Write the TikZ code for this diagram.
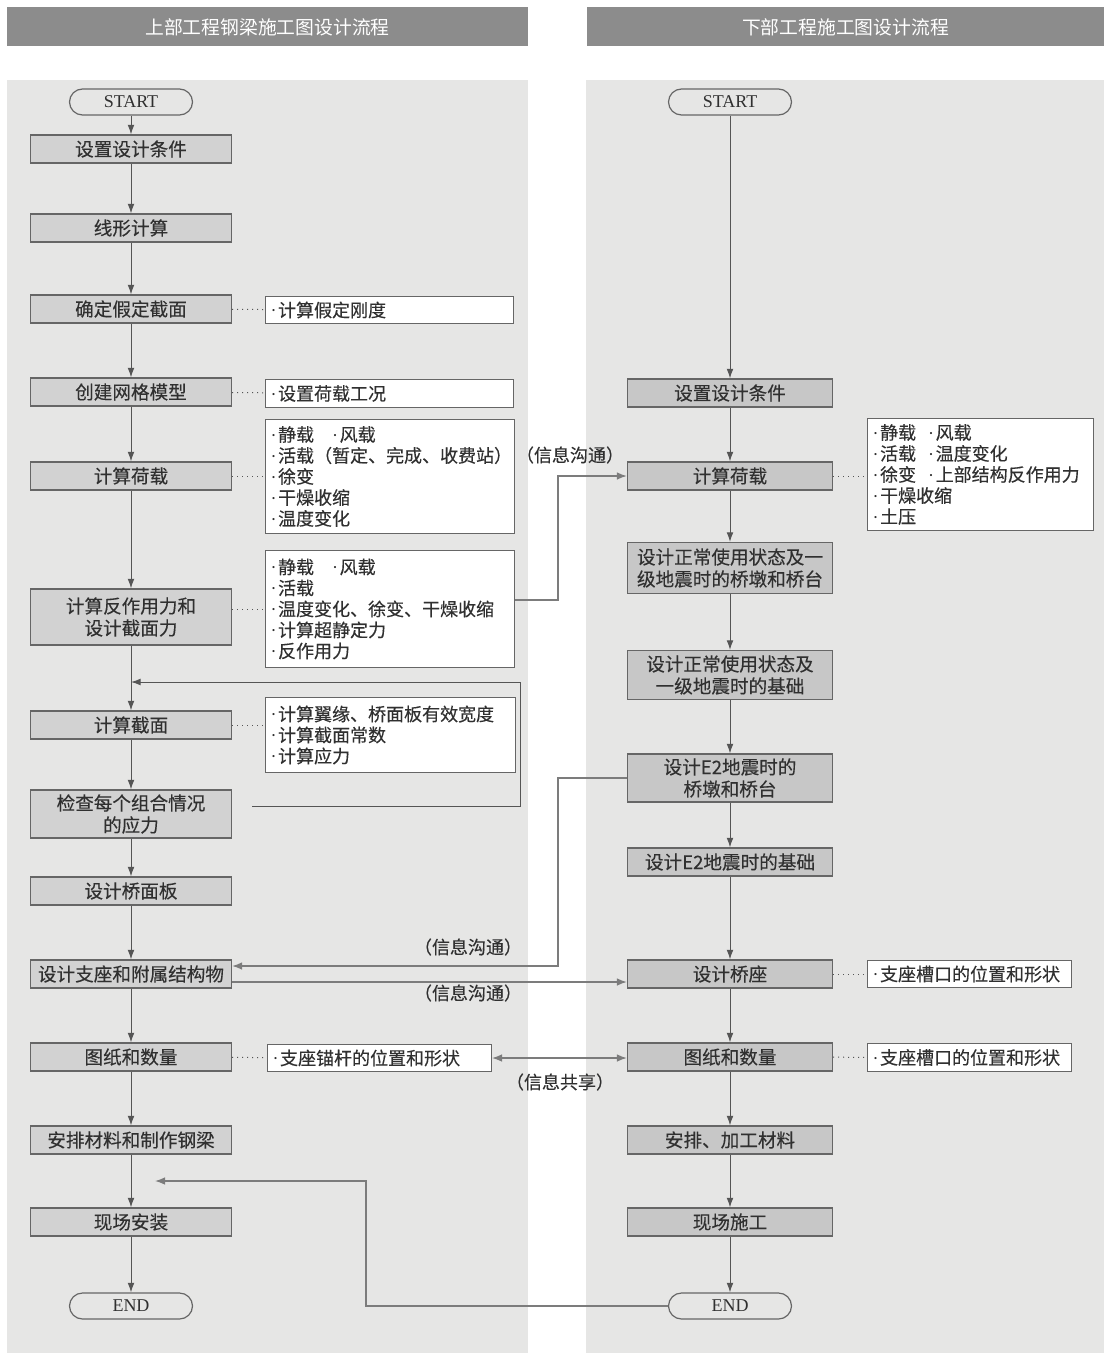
\documentclass[tikz,border=0pt]{standalone}
\usepackage{fontspec}
\setmainfont{Liberation Serif}
\newfontfamily\cjk[FakeBold=0.25]{Noto Sans CJK SC}
\newfontfamily\cjkh{Noto Sans CJK SC}
\usetikzlibrary{arrows.meta}
\definecolor{panel}{HTML}{E6E6E5}
\definecolor{hdrc}{HTML}{8C8C8C}
\definecolor{boxl}{HTML}{D2D2D2}
\definecolor{boxr}{HTML}{C7C7C7}
\definecolor{bordc}{HTML}{666666}
\definecolor{linec}{HTML}{555555}
\definecolor{xlinec}{HTML}{7C7C7C}
\definecolor{txt}{HTML}{303030}
\newcommand\bu{{\rmfamily ·}\nobreak\hspace{0.8pt}\nobreak}
\begin{document}
\begin{tikzpicture}[x=0.5pt,y=-0.5pt,
  hdr/.style={fill=hdrc, text=white, minimum height=19.5pt, inner sep=0pt,
    font=\cjkh\fontsize{9.4}{11}\selectfont},
  basebox/.style={draw=bordc, line width=0.6pt, inner sep=1pt, text=txt, align=center,
    minimum height=14pt, font=\cjk\fontsize{9.3}{11}\selectfont},
  lbox/.style={basebox, fill=boxl, minimum width=100.5pt},
  rbox/.style={basebox, fill=boxr, minimum width=102.5pt},
  term/.style={draw=bordc, line width=0.6pt, fill=panel, rounded corners=6.5pt,
    minimum width=61.5pt, minimum height=13pt, inner sep=0pt, text=txt,
    font=\fontsize{9}{10}\selectfont},
  sbox/.style={draw=bordc, line width=0.5pt, fill=white, anchor=north west,
    inner xsep=2.5pt, inner ysep=1.5pt, align=left, text=txt,
    font=\cjk\fontsize{9}{10.5}\selectfont},
  flow/.style={draw=linec, line width=0.5pt, -{Latex[length=4.8pt,width=3.4pt]}},
  xflow/.style={draw=xlinec, line width=0.7pt, -{Latex[length=5pt,width=3.8pt]}},
  dotl/.style={draw=linec, line width=0.5pt, dotted},
  lab/.style={text=txt, font=\cjk\fontsize{9}{10.5}\selectfont, inner sep=0pt}
]
\useasboundingbox (0,0) rectangle (1104,1353);
\fill[white] (0,0) rectangle (1104,1353);
\fill[panel] (7,80) rectangle (528,1353);
\fill[panel] (586,80) rectangle (1104,1353);

% headers
\node[hdr, minimum width=260.5pt] (h1) at (267.5,27) {上部工程钢梁施工图设计流程};
\node[hdr, minimum width=258.5pt] (h2) at (845.5,27) {下部工程施工图设计流程};

% left column
\node[term] (ls) at (131,102) {START};
\node[lbox] (l1) at (131,149) {设置设计条件};
\node[lbox] (l2) at (131,228) {线形计算};
\node[lbox] (l3) at (131,309) {确定假定截面};
\node[lbox] (l4) at (131,392) {创建网格模型};
\node[lbox] (l5) at (131,476) {计算荷载};
\node[lbox, minimum height=28pt] (l6) at (131,617) {计算反作用力和\\设计截面力};
\node[lbox] (l7) at (131,725) {计算截面};
\node[lbox, minimum height=24pt] (l8) at (131,814) {检查每个组合情况\\的应力};
\node[lbox] (l9) at (131,891) {设计桥面板};
\node[lbox] (l10) at (131,974) {设计支座和附属结构物};
\node[lbox] (l11) at (131,1057) {图纸和数量};
\node[lbox] (l12) at (131,1140) {安排材料和制作钢梁};
\node[lbox] (l13) at (131,1222) {现场安装};
\node[term] (le) at (131,1306) {END};

% left side boxes
\node[sbox, minimum width=124pt, minimum height=13.5pt, text width=119pt] (s3) at (265,296) {\bu 计算假定刚度};
\node[sbox, minimum width=124pt, minimum height=14pt, text width=119pt] (s4) at (265,379) {\bu 设置荷载工况};
\node[sbox, minimum width=124.5pt, minimum height=57pt, text width=119.5pt] (s5) at (265,419)
  {\bu 静载\ \ \ \bu 风载\\\mbox{\bu 活载（暂定、完成、收费站）}\\\bu 徐变\\\bu 干燥收缩\\\bu 温度变化};
\node[sbox, minimum width=124.5pt, minimum height=58.5pt, text width=119.5pt] (s6) at (265,550)
  {\bu 静载\ \ \ \bu 风载\\\bu 活载\\\mbox{\bu 温度变化、徐变、干燥收缩}\\\bu 计算超静定力\\\bu 反作用力};
\node[sbox, minimum width=125pt, minimum height=37.5pt, text width=120pt] (s7) at (265,697)
  {\mbox{\bu 计算翼缘、桥面板有效宽度}\\\bu 计算截面常数\\\bu 计算应力};
\node[sbox, minimum width=112pt, minimum height=13.5pt, text width=107pt] (s11) at (267,1044) {\mbox{\bu 支座锚杆的位置和形状}};

% right column
\node[term] (rs) at (730,102) {START};
\node[rbox] (r1) at (730,393) {设置设计条件};
\node[rbox] (r2) at (730,476) {计算荷载};
\node[rbox, minimum height=25.5pt] (r3) at (730,568) {设计正常使用状态及一\\级地震时的桥墩和桥台};
\node[rbox, minimum height=24.5pt] (r4) at (730,675) {设计正常使用状态及\\一级地震时的基础};
\node[rbox, minimum height=24pt] (r5) at (730,778) {设计E2地震时的\\桥墩和桥台};
\node[rbox] (r6) at (730,862) {设计E2地震时的基础};
\node[rbox] (r7) at (730,974) {设计桥座};
\node[rbox] (r8) at (730,1057) {图纸和数量};
\node[rbox] (r9) at (730,1140) {安排、加工材料};
\node[rbox] (r10) at (730,1222) {现场施工};
\node[term] (re) at (730,1306) {END};

% right side boxes
\node[sbox, minimum width=113pt, minimum height=56pt, text width=108pt] (t2) at (867,418)
  {\bu 静载\ \ \bu 风载\\\bu 活载\ \ \bu 温度变化\\\mbox{\bu 徐变\ \ \bu 上部结构反作用力}\\\bu 干燥收缩\\\bu 土压};
\node[sbox, minimum width=102pt, minimum height=13.5pt, text width=97pt] (t7) at (867,960) {\mbox{\bu 支座槽口的位置和形状}};
\node[sbox, minimum width=102pt, minimum height=14pt, text width=97pt] (t8) at (867,1043) {\mbox{\bu 支座槽口的位置和形状}};

% left flow
\foreach \a/\b in {ls/l1,l1/l2,l2/l3,l3/l4,l4/l5,l5/l6,l6/l7,l7/l8,l8/l9,l9/l10,l10/l11,l11/l12,l12/l13,l13/le}
  \draw[flow] (\a) -- (\b);
% right flow
\foreach \a/\b in {rs/r1,r1/r2,r2/r3,r3/r4,r4/r5,r5/r6,r6/r7,r7/r8,r8/r9,r9/r10,r10/re}
  \draw[flow] (\a) -- (\b);

% dotted links
\draw[dotl] (l3) -- (s3);
\draw[dotl] (l4) -- (s4);
\draw[dotl] (l5.east) -- (l5.east -| s5.west);
\draw[dotl] (s6.west -| l6.east) -- (s6.west);
\draw[dotl] (l7.east) -- (l7.east -| s7.west);
\draw[dotl] (l11) -- (s11);
\draw[dotl] (r2.east) -- (r2.east -| t2.west);
\draw[dotl] (r7) -- (t7);
\draw[dotl] (r8) -- (t8);

% feedback loop on left
\coordinate (f1) at (252,806);
\coordinate (f2) at (520,682);
\draw[flow] (f1) -| (f2) -- (f2 -| l6.south);

% cross connectors
\coordinate (k1) at (558,600);
\draw[xflow] (s6.east |- k1) -- (k1) |- (r2.west);
\node[lab] (i1) at (570,455) {（信息沟通）};

\coordinate (k3) at (558,966);
\draw[xflow] (r5.west) -| (k3) -- (k3 -| l10.east);
\node[lab] (i2) at (468,947) {（信息沟通）};

\draw[xflow] ([yshift=-4pt]l10.east) -- ([yshift=-4pt]l10.east -| r7.west);
\node[lab] (i3) at (468,993) {（信息沟通）};

\draw[xflow, {Latex[length=5pt,width=3.8pt]}-{Latex[length=5pt,width=3.8pt]}] (s11.east) -- (s11.east -| r8.west);
\node[lab] (i4) at (560,1082) {（信息共享）};

\coordinate (k5) at (366,1181);
\coordinate (k6) at (155,1181);
\draw[xflow] (re.west) -| (k5) -- (k6);
\end{tikzpicture}
\end{document}
